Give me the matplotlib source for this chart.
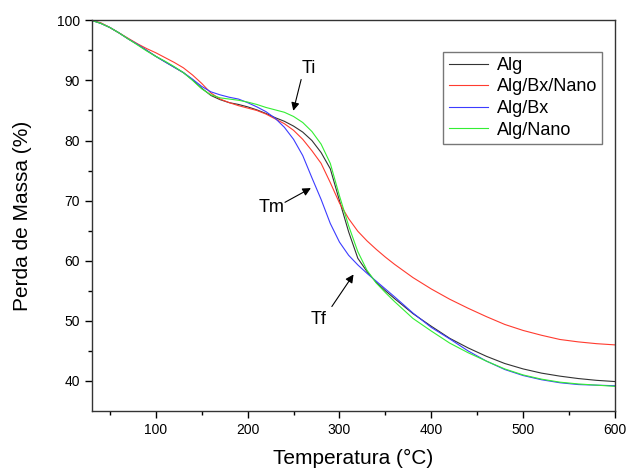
import matplotlib
matplotlib.use('Agg')
import matplotlib.pyplot as plt

plt.rcParams['font.family'] = ['Liberation Sans', 'DejaVu Sans']

# temperaturas (°C)
temp = [30, 40, 50, 60, 70, 80, 90, 100, 110, 120, 130, 140, 150, 160, 170, 180, 190,
        200, 210, 220, 230, 240, 250, 260, 270, 280, 290, 300, 310, 320, 330, 340, 350,
        360, 380, 400, 420, 440, 460, 480, 500, 520, 540, 560, 580, 600]

alg = [100, 99.5, 98.8, 97.9, 96.9, 96.0, 95.0, 94.0, 93.1, 92.2, 91.3, 90.1, 88.7, 87.5,
       86.8, 86.3, 86.0, 85.6, 85.1, 84.5, 83.8, 83.2, 82.4, 81.4, 80.0, 78.0, 75.3, 70.0,
       64.8, 60.4, 58.2, 56.4, 55.0, 53.7, 51.2, 49.1, 47.1, 45.5, 44.1, 42.9, 42.0, 41.3,
       40.8, 40.4, 40.1, 39.9]

alg_bx_nano = [100, 99.6, 98.8, 97.9, 97.0, 96.1, 95.3, 94.6, 93.8, 93.0, 92.1, 90.9, 89.5,
               87.9, 86.9, 86.3, 85.8, 85.4, 85.0, 84.4, 83.6, 82.8, 81.7, 80.2, 78.3, 76.2,
               73.0, 69.6, 67.0, 64.9, 63.3, 61.9, 60.6, 59.4, 57.2, 55.3, 53.6, 52.1, 50.7,
               49.4, 48.4, 47.6, 46.9, 46.5, 46.2, 46.0]

alg_bx = [100, 99.5, 98.8, 97.9, 96.9, 96.0, 95.0, 94.0, 93.1, 92.2, 91.3, 90.2, 89.0, 88.1,
          87.6, 87.2, 86.9, 86.3, 85.6, 84.8, 83.7, 82.2, 80.2, 77.5, 73.8, 70.2, 66.2, 63.1,
          60.9, 59.3, 57.9, 56.6, 55.3, 54.0, 51.3, 48.9, 47.0, 45.0, 43.3, 41.9, 40.9, 40.2,
          39.7, 39.4, 39.3, 39.2]

alg_nano = [100, 99.5, 98.8, 97.9, 96.9, 95.9, 94.9, 94.0, 93.2, 92.3, 91.3, 90.0, 88.6,
            87.6, 87.1, 86.9, 86.7, 86.4, 86.0, 85.5, 85.1, 84.7, 84.0, 83.0, 81.5, 79.4,
            76.2, 70.8, 65.8, 61.5, 58.4, 56.3, 54.7, 53.2, 50.4, 48.3, 46.3, 44.7, 43.3,
            42.0, 41.0, 40.3, 39.8, 39.5, 39.3, 39.1]

labels = ['Alg', 'Alg/Bx/Nano', 'Alg/Bx', 'Alg/Nano']
cores = ['#333333', '#ff3b2f', '#3c3cff', '#33ee33']

fig = plt.figure(figsize=(6.29, 4.68), dpi=100)
ax = fig.add_axes([0.1455, 0.1218, 0.8322, 0.8348])

for serie, lab, c in zip([alg, alg_bx_nano, alg_bx, alg_nano], labels, cores):
    ax.plot(temp, serie, color=c, lw=0.8, label=lab)

ax.set_xlim(30, 600)
ax.set_ylim(35, 100)
ax.set_xticks([100, 200, 300, 400, 500, 600])
ax.set_xticks(range(50, 600, 100), minor=True)
ax.set_yticks([40, 50, 60, 70, 80, 90, 100])
ax.set_yticks(range(45, 100, 10), minor=True)
ax.tick_params(which='major', direction='out', length=5, width=1, labelsize=10, top=False, right=False)
ax.tick_params(which='minor', direction='out', length=3, width=1, top=False, right=False)
for s in ax.spines.values():
    s.set_color('#333333')
    s.set_linewidth(1)

ax.set_xlabel('Temperatura (°C)', fontsize=15, labelpad=9)
ax.set_ylabel('Perda de Massa (%)', fontsize=15, labelpad=18)

# anotações Ti, Tm, Tf
seta = dict(arrowstyle='-|>', color='k', lw=0.8, mutation_scale=12)
ax.annotate('', xy=(249, 84.5), xytext=(259, 90.6), arrowprops=seta)
ax.text(267, 92.0, 'Ti', fontsize=13, ha='center', va='center')
ax.annotate('', xy=(271.5, 72.3), xytext=(238, 69.5), arrowprops=seta)
ax.text(226, 68.9, 'Tm', fontsize=13, ha='center', va='center')
ax.annotate('', xy=(317, 58.1), xytext=(290, 52), arrowprops=seta)
ax.text(277, 50.3, 'Tf', fontsize=13, ha='center', va='center')

leg = ax.legend(loc='upper right', bbox_to_anchor=(0.976, 0.92), borderaxespad=0,
                fontsize=13, fancybox=False, handlelength=2.15, labelspacing=0.25,
                borderpad=0.3, handletextpad=0.5)
leg.get_frame().set_edgecolor('#555555')
leg.get_frame().set_linewidth(1)

fig.savefig('out.png', dpi=100)
